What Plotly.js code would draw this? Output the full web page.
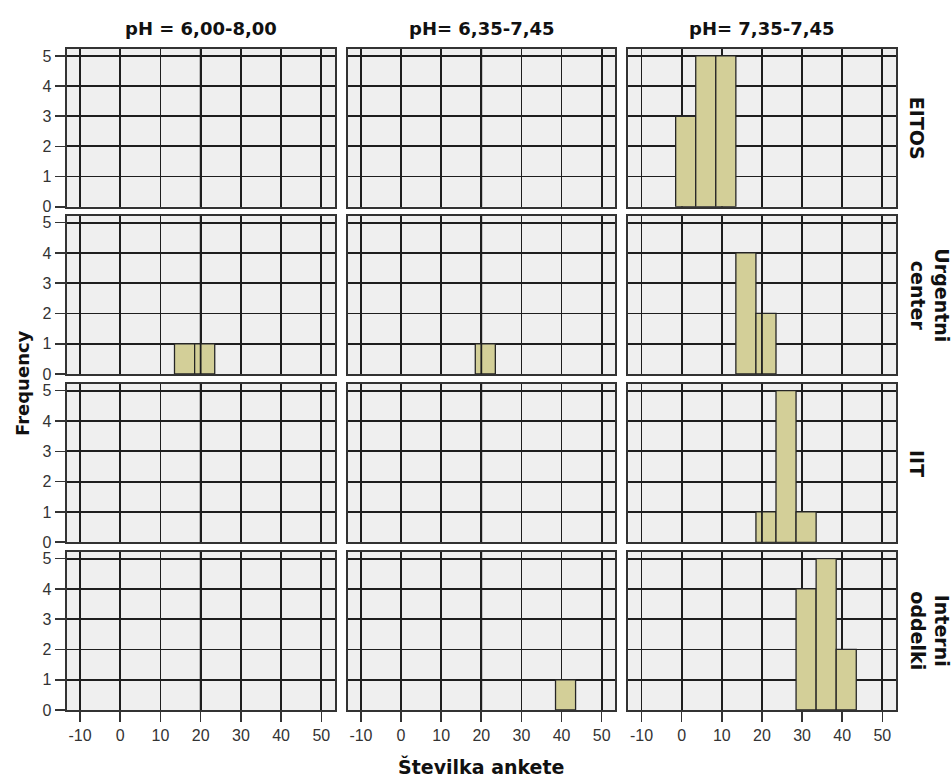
<!DOCTYPE html>
<html>
<head>
<meta charset="utf-8">
<script src="https://cdn.plot.ly/plotly-3.0.1.min.js"></script>
<style>html,body{margin:0;padding:0;background:#fff;}#chart{width:952px;height:778px;}</style>
</head>
<body>
<div id="chart"></div>
<script>
// ---- data ----
const colTitles = ['pH = 6,00-8,00', 'pH= 6,35-7,45', 'pH= 7,35-7,45'];
const rowLabels = ['EITOS', 'Urgentni<br>center', 'IIT', 'Interni<br>oddelki'];
const binCenters = [1, 6, 11, 16, 21, 26, 31, 36, 41];   // histogram bins of width 5
const binWidth = 5;
// counts per bin, one array per pH column
const countsEITOS    = [[0,0,0,0,0,0,0,0,0], [0,0,0,0,0,0,0,0,0], [3,5,5,0,0,0,0,0,0]];
const countsUrgentni = [[0,0,0,1,1,0,0,0,0], [0,0,0,0,1,0,0,0,0], [0,0,0,4,2,0,0,0,0]];
const countsIIT      = [[0,0,0,0,0,0,0,0,0], [0,0,0,0,0,0,0,0,0], [0,0,0,0,1,5,1,0,0]];
const countsInterni  = [[0,0,0,0,0,0,0,0,0], [0,0,0,0,0,0,0,0,1], [0,0,0,0,0,0,4,5,2]];
const xTickVals = [-10, 0, 10, 20, 30, 40, 50];
const xTickText = ['-10', '0', '10', '20', '30', '40', '50'];
const yTickVals = [0, 1, 2, 3, 4, 5];
const xTitle = 'Številka ankete';
const yTitle = 'Frequency';

// ---- layout geometry ----
const W = 952, H = 778;
const colPx = [[66.7, 335], [347.7, 615.3], [628.3, 896]];
const rowPx = [[49, 206.7], [215.7, 374], [383.7, 542.3], [551.7, 710]];
const fx = p => p / W;
const fy = p => 1 - p / H;

const allCounts = [countsEITOS, countsUrgentni, countsIIT, countsInterni];
const gridCol = '#1e1e1e';
const traces = [];
const layout = {
  width: W, height: H,
  margin: {l: 0, r: 0, t: 0, b: 0},
  paper_bgcolor: '#ffffff',
  plot_bgcolor: '#efefef',
  showlegend: false,
  font: {family: 'Liberation Sans, Arial, sans-serif', size: 16, color: '#333'},
  annotations: [],
  shapes: []
};

for (let r = 0; r < 4; r++) {
  for (let c = 0; c < 3; c++) {
    const k = r * 3 + c + 1;
    const xn = k === 1 ? 'x' : 'x' + k;
    const yn = k === 1 ? 'y' : 'y' + k;
    const counts = allCounts[r][c];
    const xs = [], ys = [];
    counts.forEach((v, i) => { if (v > 0) { xs.push(binCenters[i]); ys.push(v); } });
    traces.push({
      type: 'bar', x: xs, y: ys, width: binWidth, xaxis: xn, yaxis: yn,
      marker: {color: '#d3cf98', line: {color: '#262626', width: 1.3}},
      hoverinfo: 'x+y'
    });
    const bottom = r === 3, left = c === 0;
    layout[k === 1 ? 'xaxis' : 'xaxis' + k] = {
      domain: [fx(colPx[c][0]), fx(colPx[c][1])],
      anchor: yn, range: [-13.3, 53.4],
      tickvals: xTickVals, ticktext: xTickText,
      ticks: bottom ? 'outside' : '', ticklen: 10, tickwidth: 1.6, tickcolor: '#333',
      showticklabels: bottom, tickfont: {size: 16, color: '#333'},
      showgrid: true, gridcolor: gridCol, gridwidth: 1.8, zeroline: false,
      showline: true, mirror: true, linecolor: '#333', linewidth: 2, fixedrange: true
    };
    layout[k === 1 ? 'yaxis' : 'yaxis' + k] = {
      domain: [fy(rowPx[r][1]), fy(rowPx[r][0])],
      anchor: xn, range: [0, 5.23],
      tickvals: yTickVals, ticks: left ? 'outside' : '', ticklen: 10, tickwidth: 1.6, tickcolor: '#333',
      showticklabels: left, tickfont: {size: 16, color: '#333'},
      showgrid: true, gridcolor: gridCol, gridwidth: 1.8, zeroline: false,
      showline: true, mirror: true, linecolor: '#333', linewidth: 2, fixedrange: true
    };
    // the x = 20 grid line is drawn over the bars in the reference
    layout.shapes.push({
      type: 'line', layer: 'above', xref: xn, yref: yn + ' domain',
      x0: xTickVals[3], x1: xTickVals[3], y0: 0, y1: 1,
      line: {color: gridCol, width: 1.8}
    });
  }
}

const boldFont = (s) => ({family: 'DejaVu Sans, sans-serif', size: s, color: '#111', weight: 'bold'});

colTitles.forEach((t, c) => {
  layout.annotations.push({
    text: '<b>' + t + '</b>', xref: 'paper', yref: 'paper',
    x: fx((colPx[c][0] + colPx[c][1]) / 2), y: fy(28),
    xanchor: 'center', yanchor: 'middle', showarrow: false, font: boldFont(18)
  });
});
rowLabels.forEach((t, r) => {
  layout.annotations.push({
    text: '<b>' + t + '</b>', xref: 'paper', yref: 'paper',
    x: fx(904), y: fy((rowPx[r][0] + rowPx[r][1]) / 2),
    xanchor: 'left', yanchor: 'middle', textangle: 90, showarrow: false, font: boldFont(19)
  });
});
layout.annotations.push({
  text: '<b>' + yTitle + '</b>', xref: 'paper', yref: 'paper',
  x: fx(22), y: fy(383), xanchor: 'center', yanchor: 'middle', textangle: -90,
  showarrow: false, font: boldFont(18)
});
layout.annotations.push({
  text: '<b>' + xTitle + '</b>', xref: 'paper', yref: 'paper',
  x: fx(481), y: fy(766), xanchor: 'center', yanchor: 'middle',
  showarrow: false, font: boldFont(19)
});

Plotly.newPlot('chart', traces, layout, {displayModeBar: false, staticPlot: true});
</script>
</body>
</html>
